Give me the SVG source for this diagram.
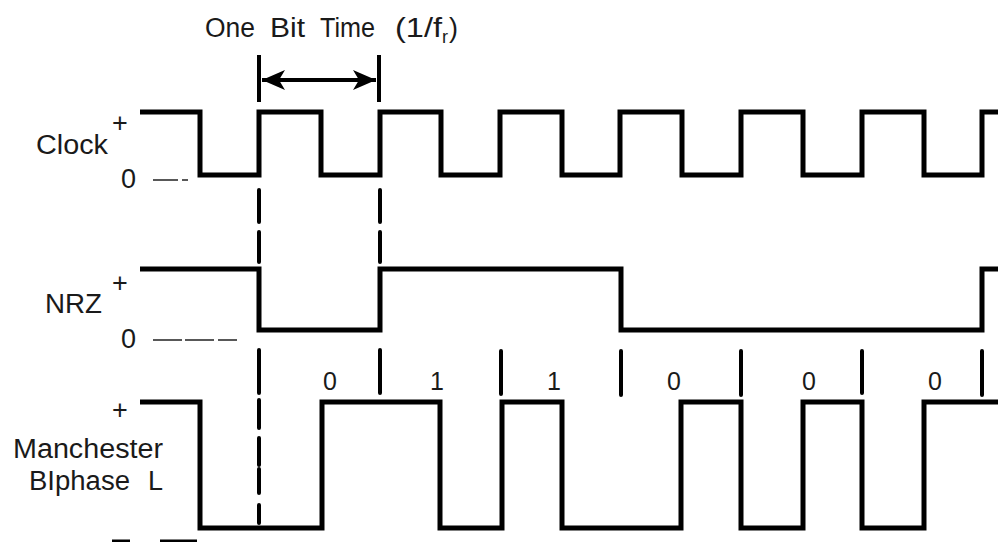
<svg xmlns="http://www.w3.org/2000/svg" width="998" height="542" viewBox="0 0 998 542">
<defs>
<style>
.t{font-family:"Liberation Sans",Arial,Helvetica,sans-serif;font-size:27px;fill:#1a1a1a}
.s{font-family:"Liberation Sans",Arial,Helvetica,sans-serif;font-size:25px;fill:#1a1a1a}
.w{fill:none;stroke:#000;stroke-width:5;stroke-linejoin:miter;stroke-linecap:butt}
.d{fill:none;stroke:#000;stroke-width:4;stroke-linecap:round}
.thin{fill:none;stroke:#222;stroke-width:1.6}
</style>
<marker id="ah" viewBox="-24 -11 25 22" refX="0" refY="0" markerWidth="25" markerHeight="22" markerUnits="userSpaceOnUse" orient="auto-start-reverse">
<path d="M0,0 L-23,-10 L-17,0 L-23,10 Z" fill="#000"/>
</marker>
</defs>
<rect width="998" height="542" fill="#fff"/>

<g id="bit-time">
<text class="t"><tspan x="205" y="37" textLength="50" lengthAdjust="spacingAndGlyphs">One</tspan><tspan x="270" y="37" textLength="35" lengthAdjust="spacingAndGlyphs">Bit</tspan><tspan x="320" y="37" textLength="55" lengthAdjust="spacingAndGlyphs">Time</tspan><tspan x="395" y="37" textLength="47" lengthAdjust="spacingAndGlyphs">(1/f</tspan><tspan x="442" y="43" style="font-size:18px">r</tspan><tspan x="449" y="37">)</tspan></text>
<line x1="259" y1="55" x2="259" y2="102" class="d" style="stroke-linecap:butt"/>
<line x1="379" y1="55" x2="379" y2="102" class="d" style="stroke-linecap:butt"/>
<line x1="262" y1="80" x2="376" y2="80" stroke="#000" stroke-width="4" marker-start="url(#ah)" marker-end="url(#ah)"/>
</g>

<g id="clock">
<text class="t" x="36" y="154" textLength="72" lengthAdjust="spacingAndGlyphs">Clock</text>
<text class="t" x="120" y="132" text-anchor="middle">+</text>
<text class="t" x="128.5" y="188" text-anchor="middle">0</text>
<path class="thin" d="M153,180 H178 M182,180 H188"/>
<path class="w" d="M140,112 H200 V175 H259 V112 H321 V175 H380 V112 H441 V175 H500 V112 H562 V175 H620 V112 H682 V175 H741 V112 H803 V175 H862 V112 H924 V175 H982 V112 H998"/>
</g>

<g id="nrz">
<text class="t" x="45" y="313" textLength="57" lengthAdjust="spacingAndGlyphs">NRZ</text>
<text class="t" x="120" y="292" text-anchor="middle">+</text>
<text class="t" x="128.5" y="348" text-anchor="middle">0</text>
<path class="thin" d="M153,340 H182 M185,340 H214 M218,340 H237"/>
<path class="w" d="M140,269 H259 V330 H380 V269 H621 V330 H982 V269 H998"/>
</g>

<g id="manchester">
<text class="t" x="120" y="419" text-anchor="middle">+</text>
<text class="t" x="13" y="458" textLength="150" lengthAdjust="spacingAndGlyphs">Manchester</text>
<text class="t" x="29" y="490" textLength="101" lengthAdjust="spacingAndGlyphs">BIphase</text>
<text class="t" x="148" y="490">L</text>
<path class="w" d="M140,402 H200 V528 H322 V402 H440 V528 H502 V402 H562 V528 H681 V402 H741 V528 H803 V402 H862 V528 H924 V402 H998"/>
<g class="s" text-anchor="middle">
<text x="330" y="390">0</text>
<text x="437" y="390">1</text>
<text x="554" y="390">1</text>
<text x="674" y="390">0</text>
<text x="809" y="390">0</text>
<text x="935" y="390">0</text>
</g>
<rect x="112" y="539.5" width="18" height="3" fill="#000"/>
<rect x="160" y="539.5" width="37" height="3" fill="#000"/>
</g>

<g id="connectors">
<path class="d" d="M259,190 V222 M259,232 V262 M259,350 V393 M259,400 V428 M259,438 V465 M259,469 V493 M259,505 V523"/>
<path class="d" d="M380,190 V222 M380,232 V262 M380,350 V393"/>
<path class="d" d="M501,351 V394 M621,351 V395 M741,351 V395 M862,351 V393 M982,351 V395"/>
</g>
</svg>
